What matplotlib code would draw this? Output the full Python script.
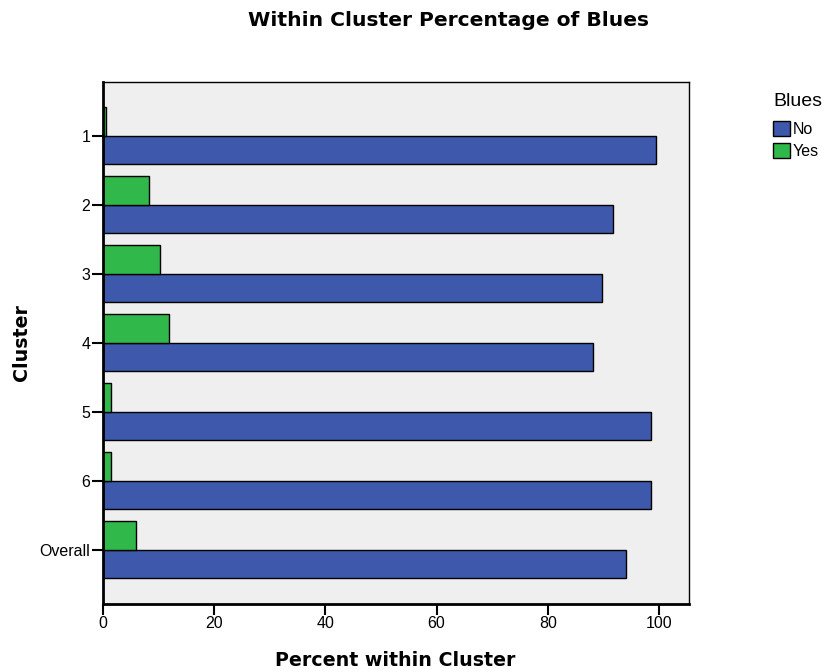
#!/usr/bin/env python3
"""Within-cluster percentage of Blues, clustered horizontal bars."""
import matplotlib
matplotlib.use("Agg")
import matplotlib.pyplot as plt
import numpy as np

clusters = ["1", "2", "3", "4", "5", "6", "Overall"]
pct_no = [99.5, 91.7, 89.8, 88.1, 98.5, 98.5, 94.0]
pct_yes = [0.5, 8.3, 10.2, 11.9, 1.5, 1.5, 6.0]
x_ticks = [0, 20, 40, 60, 80, 100]

BLUE = "#3E58AB"
GREEN = "#31B84A"
SANS = "Liberation Sans"


def main():
    fig = plt.figure(figsize=(8.25, 6.72), dpi=100)
    ax = fig.add_axes([0.1248, 0.1012, 0.7103, 0.7768])
    ax.set_facecolor("#EFEFEF")

    pos = np.arange(len(clusters))
    h = 0.41
    b_no = ax.barh(pos + h / 2, pct_no, height=h, color=BLUE,
                   edgecolor="black", linewidth=1.0, label="No")
    b_yes = ax.barh(pos - h / 2, pct_yes, height=h, color=GREEN,
                    edgecolor="black", linewidth=1.0, label="Yes")

    ax.set_xlim(0, 105.4)
    ax.set_ylim(len(clusters) - 1 + 0.79, -0.78)
    ax.set_yticks(pos)
    ax.set_yticklabels(clusters, family=SANS, fontsize=11.5)
    ax.set_xticks(x_ticks)
    ax.set_xticklabels([str(t) for t in x_ticks], family=SANS, fontsize=11.5)
    ax.tick_params(axis="both", direction="out", length=8, width=1.5, pad=1)
    for s in ax.spines.values():
        s.set_linewidth(1.0)
    ax.spines["left"].set_linewidth(2.0)
    ax.spines["bottom"].set_linewidth(2.0)

    fig.text(449 / 825, 1 - 20 / 672, "Within Cluster Percentage of Blues",
             ha="center", va="center", fontsize=14.6, fontweight="bold")
    fig.text(395 / 825, 1 - 660 / 672, "Percent within Cluster",
             ha="center", va="center", fontsize=13.7, fontweight="bold")
    fig.text(22 / 825, 1 - 343 / 672, "Cluster", rotation=90,
             ha="center", va="center", fontsize=13.7, fontweight="bold")

    # legend: title placed separately so the gap to the entries matches
    fig.text(773 / 825, 1 - 101 / 672, "Blues", ha="left", va="center",
             family=SANS, fontsize=14)
    fig.legend(handles=[b_no, b_yes], labels=["No", "Yes"],
               loc="upper left",
               bbox_to_anchor=(773 / 825, 1 - 121 / 672),
               frameon=False,
               prop={"family": SANS, "size": 11.5},
               handlelength=1.05, handleheight=1.05, handletextpad=0.2,
               labelspacing=0.4, borderpad=0, borderaxespad=0)

    fig.savefig("out.png", dpi=100)
# end def: main


if __name__ == "__main__":
    main()
# end if
